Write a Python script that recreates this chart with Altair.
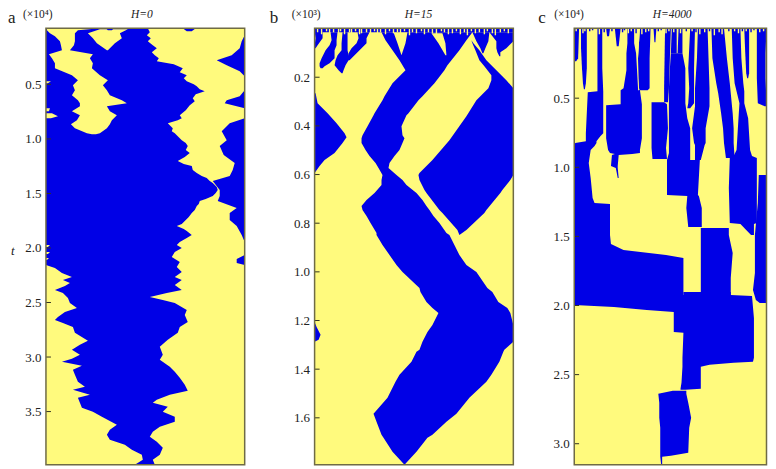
import altair as alt
import pandas as pd

YELLOW = "#FFFA7D"
BLUE = "#0000E6"
FRAME = "#6F6B45"
INK = "#222222"
LAST_ROW = 437
LAST_SITE = 199

# every band: (time row, left site, right site)
a_right_stream_edge = [(0,102),(4,104),(7,101),(10,105),(13,102),(17,107),(20,111),(24,106),(27,109),(30,113),(33,111),(36,128),(40,137),(44,134),(47,141),(50,138),(53,141),(56,148),(58,151),(61,154),(63,159),(66,150),(70,147),(73,149),(77,144),(82,140),(87,134),(90,136),(92,132),(95,122),(98,125),(100,127),(103,126),(105,129),(109,133),(112,136),(115,140),(118,142),(122,140),(125,144),(129,139),(133,132),(136,138),(138,146),(142,147),(145,151),(148,156),(150,161),(153,164),(155,167),(159,171),(162,172),(165,170),(168,167),(171,160),(173,154),(176,153),(178,151),(182,149),(185,146),(189,143),(193,139),(196,136),(198,131),(201,138),(203,141),(207,146),(210,141),(214,134),(217,131),(220,136),(224,129),(229,126),(234,134),(239,131),(244,136),(249,129),(252,136),(257,129),(262,136),(265,121),(269,104),(272,117),(275,129),(282,141),(287,139),(294,142),(299,134),(305,132),(312,122),(319,114),(327,117),(332,114),(339,124),(344,129),(350,134),(357,139),(363,142),(367,124),(372,111),(375,107),(379,122),(384,117),(389,129),(394,129),(399,114),(404,107),(409,104),(414,111),(420,117),(427,114),(432,107),(437,109)]
a_right_blue_edge = [(0,199),(7,199),(13,196),(20,194),(27,186),(32,171),(37,181),(43,194),(48,199),(62,199),(68,194),(72,181),(75,179),(80,199),(90,199),(95,184),(103,176),(112,181),(118,174),(127,178),(135,189),(142,187),(148,184),(153,167),(162,174),(168,174),(173,172),(180,191),(185,184),(192,184),(198,191),(207,196),(214,199),(227,199),(231,191),(235,191),(237,199)]
a_lower_left_edge = [(237,0),(240,9),(245,16),(249,26),(252,17),(255,24),(258,19),(262,9),(265,17),(270,22),(275,24),(280,31),(284,19),(289,12),(292,9),(295,17),(299,27),(305,29),(313,42),(317,34),(322,26),(327,34),(331,26),(334,16),(338,36),(342,27),(347,29),(354,32),(359,39),(362,27),(367,44),(370,32),(375,34),(380,36),(384,47),(389,56),(397,71),(402,64),(407,61),(412,64),(417,79),(422,86),(427,96),(432,97),(437,89)]
a_upper_stream = [(0,1,54),(2,1,32),(5,4,29),(8,9,29),(13,14,29),(17,15,28),(22,16,24),(26,3,47),(30,6,44),(35,9,47),(40,9,46),(47,26,54),(52,32,62),(57,27,57),(62,29,61),(67,26,64),(72,32,76),(75,34,81),(78,34,61),(83,26,64),(87,34,71),(92,31,66),(96,25,64),(100,29,61),(105,41,54),(106,46,50)]
a_island = [(1,54,82),(5,42,74),(10,47,76),(15,51,69),(22,61,62)]
a_left_bits = [[(53,0,5),(55,0,2)],[(80,0,4),(83,0,3)],[(85,0,6),(88,0,12),(90,0,5)],[(217,0,4),(219,0,2)],[(224,0,4),(226,0,2)],[(230,0,3),(232,0,1)]]
a_top_blue = [[(0,137,150),(3,141,146)],[(0,60,68),(2,62,66)]]

b_top_strip = [(0,0,199),(4,0,199)]
b_left_triangle = [(65,0,1),(75,0,3),(85,0,13),(95,0,22),(105,0,30),(109,0,32),(115,0,28),(125,0,20),(132,0,10),(138,0,5),(145,0,0)]
b_left_speck = [(294,0,0),(299,0,2),(307,0,6),(312,0,4),(314,0,0)]
b_diagonal = [(4,67,158),(12,71,152),(22,78,145),(32,85,137),(37,88,133),(42,91,130),(55,78,120),(68,70,108),(72,68,104),(85,60,94),(87,59,92),(98,53,87),(107,48,88),(110,47,90),(115,47,88),(122,51,85),(128,55,80),(135,61,75),(140,64,74),(147,68,82),(152,67,88),(157,67,92),(165,60,102),(172,52,108),(178,47,112),(182,48,115),(188,52,119),(195,56,125),(205,62,132),(207,62,135),(217,68,140),(227,75,145),(237,82,152),(244,88,162),(260,105,173),(264,106,178),(274,112,184),(280,118,193),(285,124,196),(297,118,199),(304,113,199),(314,108,199),(322,105,190),(324,102,189),(334,97,185),(347,85,177),(354,81,172),(370,73,155),(386,59,142),(394,62,132),(407,67,118),(410,69,113),(424,78,102),(437,90,90)]
b_diamond = [(12,157,157),(15,158,159),(22,161,165),(32,165,172),(38,170,178),(47,177,187),(52,177,192),(60,174,199),(72,162,199),(88,152,199),(112,135,199),(132,118,199),(145,105,199),(147,104,199),(152,105,196),(162,110,188),(165,112,186),(182,125,172),(185,128,170),(202,143,152),(207,145,145)]
b_blobs = [
    [(3,0,8),(10,1,8),(17,0,3),(20,0,1)],
    [(4,16,23),(12,17,22),(17,15,22),(22,11,20),(30,7,20),(35,5,15),(38,5,10),(40,6,8)],
    [(4,28,33),(15,27,33),(22,27,33),(27,23,34),(32,21,34),(37,20,31),(42,24,29),(45,27,28)],
    [(4,43,55),(10,44,52),(15,42,52),(20,37,47),(25,34,42),(30,33,37),(32,33,35)],
    [(4,158,175),(13,162,174),(20,166,171),(25,168,169)],
    [(4,175,199),(13,182,199),(20,182,192),(24,183,186),(28,185,186)],
]
b_pockets = [[(4,79,93),(15,83,91),(27,87,87)],[(5,117,128),(15,124,131),(27,131,132)]]
b_fringe_sites = [3,7,12,15,19,24,26,30,35,37,41,45,47,52,56,60,63,66,71,75,79,83,86,90,95,98,102,107,110,114,118,122,127,130,134,138,142,146,150,153,157,161,165,170,173,178,181,186,190,194]
b_fringe_rows = [4,6,3,5,4,7,3,6,4,5,3,6,5,4,7,3,5,4,6,3,5,4,6,3,7,4,5,3,6,4,5,7,3,4,6,5,3,6,4,7,3,5,4,6,3,5,7,4,3,5]

c_bands = [
    [(0,0,5),(30,0,4),(33,0,2)],
    [(0,7,13),(20,7,13),(40,8,13),(55,9,12),(61,10,11)],
    [(0,24,29),(40,24,29),(63,24,30),(64,14,30),(105,12,30),(108,12,27),(113,12,23),(115,1,23),(118,0,21),(122,0,17),(135,0,15),(150,0,17),(170,0,19),(175,0,21),(176,0,37),(207,0,37),(216,0,38),(222,0,51),(227,0,95),(230,0,113),(277,0,113),(279,41,113),(282,75,113),(284,103,113)],
    [(0,33,37),(8,34,36)],
    [(0,42,48),(18,44,46)],
    [(0,55,62),(15,55,62),(25,54,64),(42,54,65),(60,51,66),(62,48,68),(76,48,70),(77,33,70),(110,33,70),(122,35,68),(125,37,68),(126,42,60),(127,39,46),(138,38,45),(140,43,45),(150,45,46)],
    [(0,68,79),(30,66,78),(50,66,78),(60,67,78),(62,68,76)],
    [(0,82,85),(14,83,84)],
    [(0,94,100),(60,93,98),(74,93,97)],
    [(74,80,93),(76,80,96),(100,80,97),(120,80,95),(131,81,96)],
    [(0,101,106),(25,100,106)],
    [(0,108,112),(25,107,112)],
    [(25,100,112),(40,99,115),(60,98,115),(75,98,115),(90,98,117),(100,98,120),(125,98,120),(132,96,120)],
    [(0,120,125),(40,118,124),(60,119,124),(75,118,124),(80,117,120)],
    [(0,128,138),(30,127,139),(60,125,140),(78,125,140),(100,122,136),(115,124,136),(117,125,135),(132,125,131)],
    [(132,96,130),(167,96,128),(168,117,129),(180,116,132),(199,118,132)],
    [(200,131,160),(207,131,160),(225,131,164),(250,131,162),(268,131,162)],
    [(0,142,155),(30,143,158),(55,147,161),(65,149,162),(85,152,164),(100,154,165),(115,155,165),(130,157,166)],
    [(0,163,172),(30,164,173),(55,166,175),(63,168,176),(75,171,176),(90,170,180),(122,168,182),(128,165,184),(130,161,189),(160,160,189),(195,161,189),(196,172,186),(207,183,186)],
    [(0,176,181),(25,177,181),(45,178,181),(50,179,180)],
    [(0,189,199),(25,189,198),(50,189,198),(75,190,199),(78,197,199)],
    [(147,191,199),(175,190,199),(207,187,199),(245,187,199),(262,185,199),(272,188,199),(275,192,199)],
    [(264,113,162),(267,113,162),(268,103,184),(290,103,186),(304,103,186),(305,113,186),(330,112,186),(334,112,185),(335,112,165),(337,112,140),(339,112,131),(355,111,131),(361,110,131),(362,110,115)],
    [(363,102,116),(366,87,116),(375,88,118),(390,88,121),(400,89,119),(425,89,118),(428,89,100),(429,89,91),(437,90,91)],
]
c_yellow_sliver = [(0,62,68),(30,66,66),(62,66,67)]
c_fringe_yellow_sites = [2,9,11,26,56,59,70,74,77,95,98,103,110,122,130,135,145,150,153,166,170,178,192,196]
c_fringe_yellow_rows = [3,5,3,6,5,3,6,4,3,5,3,4,5,3,6,4,7,4,6,3,5,3,4,3]
c_fringe_blue_sites = [16,19,31,39,50,52,64,87,90,116,126,140,160,174,183,186]
c_fringe_blue_rows = [3,2,4,3,4,2,5,3,2,3,4,3,3,3,4,2]

a_ticks = [0.5, 1.0, 1.5, 2.0, 2.5, 3.0, 3.5]
b_ticks = [0.2, 0.4, 0.6, 0.8, 1.0, 1.2, 1.4, 1.6]
c_ticks = [0.5, 1.0, 1.5, 2.0, 2.5, 3.0]
a_scale = (1.6, 109.2)
b_scale = (0.3, 243.6)
c_scale = (0.8, 138.4)


def panel(scale, ticks, width, domain_end, shapes, fringes, texts):
    row0, rows_per_t = scale
    to_t = lambda r: (r - row0) / rows_per_t
    x_scale = alt.Scale(domain=[0, domain_end], nice=False, zero=False)
    y_scale = alt.Scale(domain=[to_t(LAST_ROW), to_t(0)], nice=False, zero=False)
    y_axis = alt.Axis(values=ticks, format=".1f", title=None, grid=False, domain=False, ticks=False,
                      labelFont="Liberation Serif", labelFontSize=13, labelColor=INK, labelPadding=5)
    layers = []
    for color, band in shapes:
        df = pd.DataFrame(band, columns=["row", "left", "right"])
        df["t"] = df["row"].map(to_t)
        layers.append(
            alt.Chart(df).mark_area(orient="horizontal", color=color, clip=True, strokeWidth=0).encode(
                y=alt.Y("t:Q", scale=y_scale, axis=y_axis, sort=None),
                x=alt.X("left:Q", scale=x_scale, axis=None),
                x2="right:Q",
            )
        )
    for color, sites, lengths in fringes:
        df = pd.DataFrame({"site": sites, "top": [to_t(0)] * len(sites), "end": [to_t(v) for v in lengths]})
        layers.append(
            alt.Chart(df).mark_rule(color=color, strokeWidth=1.4).encode(
                x=alt.X("site:Q", scale=x_scale, axis=None),
                y=alt.Y("top:Q", scale=y_scale, axis=y_axis),
                y2="end:Q",
            )
        )
    # inward tick marks
    tick_df = pd.DataFrame({"t": ticks, "a": [0] * len(ticks), "b": [5] * len(ticks)})
    layers.append(
        alt.Chart(tick_df).mark_rule(color="#333322", strokeWidth=1).encode(
            y=alt.Y("t:Q", scale=y_scale, axis=y_axis),
            x=alt.X("a:Q", scale=x_scale, axis=None),
            x2="b:Q",
        )
    )
    # frame
    frame = pd.DataFrame({"x0": [0], "x1": [LAST_SITE], "y0": [to_t(0)], "y1": [to_t(LAST_ROW)]})
    layers.append(
        alt.Chart(frame).mark_rect(fill=None, stroke=FRAME, strokeWidth=1.5).encode(
            x=alt.X("x0:Q", scale=x_scale, axis=None), x2="x1:Q",
            y=alt.Y("y0:Q", scale=y_scale, axis=y_axis), y2="y1:Q",
        )
    )
    for label, px, py, size, style, align in texts:
        layers.append(
            alt.Chart(pd.DataFrame({"label": [label]})).mark_text(
                font="Liberation Serif", fontSize=size, fontStyle=style, color=INK, align=align, baseline="alphabetic"
            ).encode(text="label:N", x=alt.value(px), y=alt.value(py))
        )
    return alt.layer(*layers).properties(width=width, height=LAST_ROW)


full_panel = [(0, 0, LAST_SITE), (LAST_ROW, 0, LAST_SITE)]
a_shapes = [
    (BLUE, full_panel),
    (YELLOW, [(r, x, LAST_SITE) for r, x in a_right_stream_edge]),
    (BLUE, [(r, x, LAST_SITE) for r, x in a_right_blue_edge]),
    (YELLOW, [(r, 0, x) for r, x in a_lower_left_edge]),
    (YELLOW, a_upper_stream),
    (YELLOW, a_island),
] + [(YELLOW, b) for b in a_left_bits] + [(BLUE, b) for b in a_top_blue]

b_shapes = [(YELLOW, full_panel), (BLUE, b_top_strip), (BLUE, b_left_triangle), (BLUE, b_left_speck),
            (BLUE, b_diagonal), (BLUE, b_diamond)] \
    + [(BLUE, b) for b in b_blobs] + [(YELLOW, b) for b in b_pockets]

c_shapes = [(YELLOW, full_panel)] + [(BLUE, b) for b in c_bands] + [(YELLOW, c_yellow_sliver)]

pa = panel(a_scale, a_ticks, 209, 209, a_shapes, [], [
    ("a", -38, -5, 17, "normal", "left"),
    ("(×10⁴)", -23, -10.5, 11.5, "normal", "left"),
    ("H=0", 96, -10.5, 11.5, "italic", "center"),
    ("t", -35, 227, 13, "italic", "left"),
])
pb = panel(b_scale, b_ticks, 200, 200, b_shapes, [(YELLOW, b_fringe_sites, b_fringe_rows)], [
    ("b", -45, -5, 17, "normal", "left"),
    ("(×10³)", -23, -10.5, 11.5, "normal", "left"),
    ("H=15", 104, -10.5, 11.5, "italic", "center"),
])
pc = panel(c_scale, c_ticks, 192.5, 199, c_shapes, [(YELLOW, c_fringe_yellow_sites, c_fringe_yellow_rows), (BLUE, c_fringe_blue_sites, c_fringe_blue_rows)], [
    ("c", -36, -5, 17, "normal", "left"),
    ("(×10⁴)", -20, -10.5, 11.5, "normal", "left"),
    ("H=4000", 98, -10.5, 11.5, "italic", "center"),
])

chart = alt.hconcat(pa, pb, pc, spacing=60, bounds="flush").properties(
    padding=0
).configure_view(stroke=None)

chart.save("out.html", embed_options={"renderer": "svg", "actions": False})
